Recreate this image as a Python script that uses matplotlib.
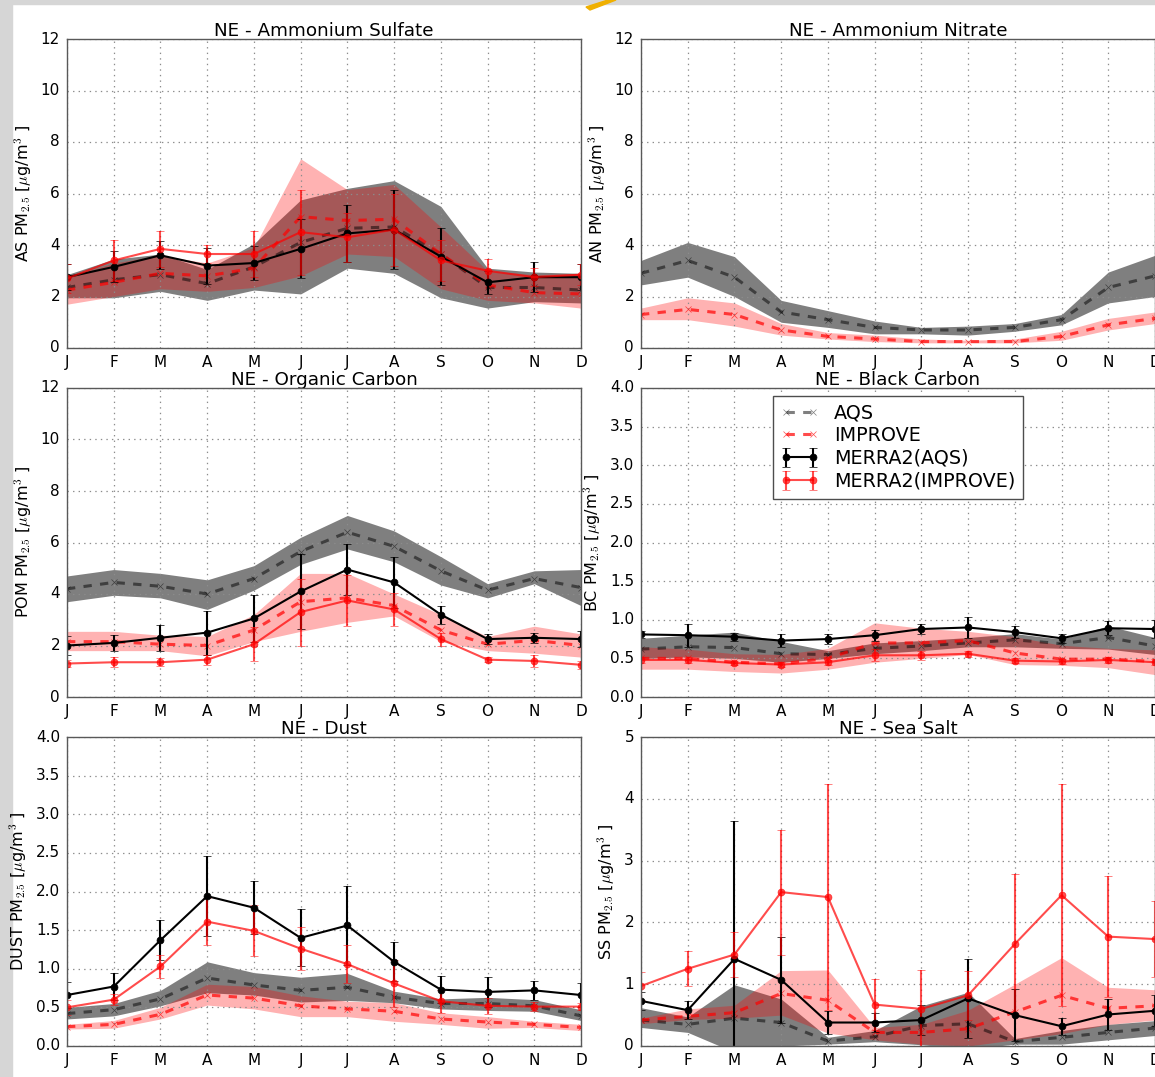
import matplotlib
matplotlib.use('Agg')
import matplotlib.pyplot as plt
from matplotlib.patches import Rectangle, Polygon
import numpy as np

plt.style.use('classic')
plt.rcParams['font.family'] = ['DejaVu Sans']
plt.rcParams['mathtext.fontset'] = 'cm'
plt.rcParams['figure.facecolor'] = 'white'
plt.rcParams['savefig.facecolor'] = 'white'

months = ['J', 'F', 'M', 'A', 'M', 'J', 'J', 'A', 'S', 'O', 'N', 'D']

# ---- Ammonium Sulfate
as_aqs = [2.35, 2.65, 2.85, 2.5, 3.15, 4.1, 4.65, 4.7, 3.65, 2.35, 2.35, 2.25]
as_aqs_lo = [1.95, 1.95, 2.2, 1.85, 2.25, 2.1, 3.1, 2.9, 1.95, 1.55, 1.8, 1.75]
as_aqs_hi = [2.85, 3.45, 3.65, 3.05, 4.05, 5.75, 6.2, 6.5, 5.5, 3.1, 2.95, 2.9]
as_imp = [2.25, 2.55, 2.9, 2.8, 3.1, 5.1, 4.95, 5.0, 3.65, 2.45, 2.15, 2.1]
as_imp_lo = [1.7, 2.0, 2.3, 2.2, 2.35, 2.8, 3.65, 3.55, 2.3, 1.85, 1.75, 1.55]
as_imp_hi = [2.75, 3.3, 3.6, 3.3, 3.9, 7.35, 6.15, 6.35, 4.7, 3.0, 2.85, 2.9]
as_m2aqs = [2.75, 3.15, 3.6, 3.2, 3.3, 3.85, 4.45, 4.6, 3.55, 2.55, 2.75, 2.75]
as_m2aqs_err = [0.5, 0.6, 0.55, 0.7, 0.65, 1.15, 1.1, 1.55, 1.1, 0.45, 0.58, 0.5]
as_m2imp = [2.7, 3.4, 3.85, 3.65, 3.65, 4.5, 4.3, 4.6, 3.4, 3.0, 2.75, 2.85]
as_m2imp_err = [0.55, 0.8, 0.7, 0.35, 0.9, 1.65, 0.95, 1.4, 0.8, 0.45, 0.35, 0.4]

# ---- Ammonium Nitrate
an_aqs = [2.9, 3.4, 2.75, 1.4, 1.1, 0.8, 0.7, 0.7, 0.8, 1.1, 2.35, 2.8]
an_aqs_lo = [2.45, 2.75, 2.0, 1.0, 0.8, 0.55, 0.55, 0.5, 0.65, 0.9, 1.75, 2.0]
an_aqs_hi = [3.4, 4.1, 3.55, 1.85, 1.45, 1.05, 0.8, 0.85, 0.95, 1.3, 2.95, 3.6]
an_imp = [1.3, 1.5, 1.3, 0.7, 0.45, 0.35, 0.25, 0.25, 0.25, 0.45, 0.9, 1.15]
an_imp_lo = [1.1, 1.1, 0.85, 0.5, 0.35, 0.25, 0.2, 0.2, 0.2, 0.3, 0.7, 0.95]
an_imp_hi = [1.55, 1.95, 1.75, 0.95, 0.6, 0.5, 0.35, 0.3, 0.35, 0.65, 1.15, 1.4]

# ---- Organic Carbon
oc_aqs = [4.2, 4.45, 4.3, 4.0, 4.6, 5.65, 6.4, 5.85, 4.9, 4.15, 4.6, 4.25]
oc_aqs_lo = [3.7, 3.95, 3.85, 3.4, 4.15, 5.15, 5.75, 5.25, 4.35, 3.85, 4.4, 3.55]
oc_aqs_hi = [4.7, 4.95, 4.8, 4.55, 5.1, 6.2, 7.05, 6.45, 5.45, 4.4, 4.9, 4.95]
oc_imp = [2.15, 2.15, 2.05, 2.0, 2.6, 3.7, 3.85, 3.55, 2.6, 2.05, 2.2, 2.0]
oc_imp_lo = [1.8, 1.8, 1.8, 1.6, 2.15, 2.55, 2.9, 3.15, 2.15, 1.8, 1.7, 1.55]
oc_imp_hi = [2.55, 2.55, 2.4, 2.35, 3.2, 4.8, 4.8, 4.0, 3.2, 2.35, 2.75, 2.45]
oc_m2aqs = [2.0, 2.1, 2.3, 2.5, 3.05, 4.1, 4.95, 4.45, 3.2, 2.25, 2.3, 2.25]
oc_m2aqs_err = [0.35, 0.3, 0.5, 0.85, 0.9, 1.45, 1.0, 1.0, 0.35, 0.2, 0.2, 0.3]
oc_m2imp = [1.3, 1.35, 1.35, 1.45, 2.05, 3.3, 3.75, 3.4, 2.25, 1.45, 1.4, 1.25]
oc_m2imp_err = [0.15, 0.2, 0.15, 0.2, 0.65, 1.3, 1.0, 0.65, 0.25, 0.1, 0.25, 0.15]

# ---- Black Carbon
bc_aqs = [0.62, 0.65, 0.64, 0.56, 0.55, 0.63, 0.66, 0.7, 0.74, 0.69, 0.77, 0.66]
bc_aqs_lo = [0.5, 0.52, 0.5, 0.45, 0.5, 0.56, 0.6, 0.65, 0.65, 0.63, 0.62, 0.55]
bc_aqs_hi = [0.76, 0.8, 0.84, 0.72, 0.6, 0.7, 0.73, 0.77, 0.82, 0.75, 0.92, 0.77]
bc_imp = [0.5, 0.5, 0.45, 0.43, 0.5, 0.7, 0.7, 0.73, 0.57, 0.49, 0.49, 0.46]
bc_imp_lo = [0.36, 0.36, 0.33, 0.31, 0.36, 0.45, 0.5, 0.55, 0.42, 0.41, 0.38, 0.29]
bc_imp_hi = [0.65, 0.62, 0.56, 0.55, 0.63, 0.96, 0.89, 0.85, 0.78, 0.67, 0.63, 0.61]
bc_m2aqs = [0.81, 0.8, 0.78, 0.73, 0.75, 0.8, 0.88, 0.9, 0.84, 0.76, 0.89, 0.88]
bc_m2aqs_err = [0.05, 0.15, 0.05, 0.08, 0.07, 0.07, 0.06, 0.14, 0.08, 0.06, 0.09, 0.12]
bc_m2imp = [0.48, 0.48, 0.44, 0.42, 0.45, 0.54, 0.54, 0.56, 0.47, 0.46, 0.48, 0.45]
bc_m2imp_err = [0.04, 0.04, 0.03, 0.03, 0.03, 0.08, 0.06, 0.04, 0.03, 0.03, 0.04, 0.04]

# ---- Dust
du_aqs = [0.42, 0.47, 0.61, 0.88, 0.79, 0.72, 0.76, 0.63, 0.55, 0.55, 0.52, 0.39]
du_aqs_lo = [0.35, 0.39, 0.52, 0.69, 0.66, 0.57, 0.59, 0.56, 0.48, 0.46, 0.45, 0.33]
du_aqs_hi = [0.5, 0.55, 0.72, 1.09, 0.95, 0.89, 0.94, 0.71, 0.61, 0.63, 0.6, 0.47]
du_imp = [0.25, 0.28, 0.41, 0.66, 0.62, 0.52, 0.48, 0.45, 0.35, 0.31, 0.28, 0.24]
du_imp_lo = [0.22, 0.23, 0.35, 0.53, 0.48, 0.38, 0.38, 0.32, 0.28, 0.23, 0.24, 0.2]
du_imp_hi = [0.28, 0.33, 0.5, 0.8, 0.77, 0.65, 0.58, 0.56, 0.43, 0.38, 0.32, 0.28]
du_m2aqs = [0.66, 0.77, 1.37, 1.94, 1.79, 1.4, 1.56, 1.09, 0.73, 0.7, 0.72, 0.66]
du_m2aqs_err = [0.17, 0.17, 0.26, 0.52, 0.34, 0.37, 0.51, 0.25, 0.17, 0.19, 0.12, 0.16]
du_m2imp = [0.5, 0.6, 1.03, 1.61, 1.49, 1.26, 1.06, 0.81, 0.58, 0.52, 0.51, 0.51]
du_m2imp_err = [0.1, 0.07, 0.15, 0.3, 0.33, 0.28, 0.25, 0.3, 0.15, 0.1, 0.06, 0.05]

# ---- Sea Salt
ss_aqs = [0.42, 0.35, 0.45, 0.38, 0.08, 0.15, 0.33, 0.36, 0.07, 0.14, 0.22, 0.29]
ss_aqs_lo = [0.3, 0.22, -0.1, 0.0, 0.03, 0.07, 0.02, -0.05, 0.03, 0.03, 0.1, 0.17]
ss_aqs_hi = [0.62, 0.47, 0.99, 0.76, 0.14, 0.25, 0.65, 0.87, 0.12, 0.25, 0.35, 0.41]
ss_imp = [0.42, 0.48, 0.54, 0.85, 0.74, 0.22, 0.22, 0.28, 0.55, 0.82, 0.61, 0.65]
ss_imp_lo = [0.36, 0.43, 0.45, 0.5, 0.21, 0.1, 0.03, 0.0, 0.1, 0.2, 0.35, 0.42]
ss_imp_hi = [0.45, 0.6, 0.66, 1.22, 1.23, 0.3, 0.35, 0.58, 1.0, 1.43, 0.95, 0.91]
ss_m2aqs = [0.73, 0.58, 1.41, 1.07, 0.38, 0.38, 0.42, 0.77, 0.5, 0.32, 0.51, 0.57]
ss_m2aqs_err = [0.15, 0.15, 2.23, 0.7, 0.18, 0.15, 0.25, 0.64, 0.42, 0.14, 0.25, 0.25]
ss_m2imp = [0.97, 1.25, 1.48, 2.49, 2.41, 0.67, 0.6, 0.82, 1.65, 2.44, 1.77, 1.73]
ss_m2imp_err = [0.22, 0.28, 0.36, 1.01, 1.83, 0.41, 0.63, 0.4, 1.14, 1.8, 0.98, 0.62]

W, H = 1155, 1077


def add_ax(fig, x0, y0, w=514, h=309):
    return fig.add_axes([x0 / W, 1 - (y0 + h) / H, w / W, h / H])


def draw_panel(ax, title, ylab, ymax, yticks, yfmt,
               aqs, aqs_lo, aqs_hi, imp, imp_lo, imp_hi,
               m2aqs=None, m2aqs_err=None, m2imp=None, m2imp_err=None):
    x = np.arange(12)
    ax.fill_between(x, aqs_lo, aqs_hi, color='k', alpha=0.5, lw=0)
    ax.fill_between(x, imp_lo, imp_hi, color='r', alpha=0.3, lw=0)
    ax.plot(x, aqs, '--', color='k', alpha=0.5, lw=2.2, marker='x', ms=4,
            zorder=3, label='AQS')
    ax.plot(x, imp, '--', color='r', alpha=0.7, lw=2.2, marker='x', ms=4,
            zorder=3, label='IMPROVE')
    if m2aqs is not None:
        ax.errorbar(x, m2aqs, yerr=m2aqs_err, fmt='o-', color='k', ms=5, lw=1.5,
                    elinewidth=1.5, capsize=3, mec='k', zorder=4,
                    label='MERRA2(AQS)')
        ax.errorbar(x, m2imp, yerr=m2imp_err, fmt='o-', color='r', ms=5, lw=1.5,
                    elinewidth=1.5, capsize=3, mec='r', alpha=0.7, zorder=4,
                    label='MERRA2(IMPROVE)')
    ax.set_xlim(0, 11)
    ax.set_ylim(0, ymax)
    ax.set_xticks(x)
    ax.set_xticklabels(months)
    ax.set_yticks(yticks)
    ax.set_yticklabels([yfmt.format(v) for v in yticks])
    ax.tick_params(labelsize=11, length=0, pad=5)
    ax.grid(True, color='0.55', linestyle=':', linewidth=0.9)
    for sp in ax.spines.values():
        sp.set_color('0.35')
        sp.set_zorder(5)
    ax.set_title(title, fontsize=13.2, pad=2)
    ax.set_ylabel(ylab + r' PM$_{2.5}$ [$\mu$g/m$^3$ ]', fontsize=11.5)


fig = plt.figure(figsize=(W / 100, H / 100), dpi=100)

# screenshot frame
fig.patches.append(Rectangle((0, 0), 12 / W, 1, transform=fig.transFigure,
                             color='#d6d6d6', zorder=-5))
fig.patches.append(Rectangle((0, 1 - 4 / H), 1, 4 / H, transform=fig.transFigure,
                             color='#d6d6d6', zorder=-5))
fig.patches.append(Polygon([(586 / W, 1 - 7 / H), (608 / W, 1), (616 / W, 1),
                            (590 / W, 1 - 10 / H)], closed=True,
                           transform=fig.transFigure, color='#f0b000', zorder=5))

ax1 = add_ax(fig, 67, 39)
draw_panel(ax1, 'NE - Ammonium Sulfate', 'AS', 12, range(0, 13, 2), '{:d}',
           as_aqs, as_aqs_lo, as_aqs_hi, as_imp, as_imp_lo, as_imp_hi,
           as_m2aqs, as_m2aqs_err, as_m2imp, as_m2imp_err)

ax2 = add_ax(fig, 641, 39)
draw_panel(ax2, 'NE - Ammonium Nitrate', 'AN', 12, range(0, 13, 2), '{:d}',
           an_aqs, an_aqs_lo, an_aqs_hi, an_imp, an_imp_lo, an_imp_hi)

ax3 = add_ax(fig, 67, 388)
draw_panel(ax3, 'NE - Organic Carbon', 'POM', 12, range(0, 13, 2), '{:d}',
           oc_aqs, oc_aqs_lo, oc_aqs_hi, oc_imp, oc_imp_lo, oc_imp_hi,
           oc_m2aqs, oc_m2aqs_err, oc_m2imp, oc_m2imp_err)

ax4 = add_ax(fig, 641, 388)
draw_panel(ax4, 'NE - Black Carbon', 'BC', 4, np.arange(0, 4.01, 0.5), '{:.1f}',
           bc_aqs, bc_aqs_lo, bc_aqs_hi, bc_imp, bc_imp_lo, bc_imp_hi,
           bc_m2aqs, bc_m2aqs_err, bc_m2imp, bc_m2imp_err)
leg = ax4.legend(loc='upper center', fontsize=13.8, numpoints=2,
                 labelspacing=0.2, borderpad=0.4, borderaxespad=0.4)
leg.get_frame().set_edgecolor('0.3')
leg.set_zorder(6)

ax5 = add_ax(fig, 67, 737)
draw_panel(ax5, 'NE - Dust', 'DUST', 4, np.arange(0, 4.01, 0.5), '{:.1f}',
           du_aqs, du_aqs_lo, du_aqs_hi, du_imp, du_imp_lo, du_imp_hi,
           du_m2aqs, du_m2aqs_err, du_m2imp, du_m2imp_err)

ax6 = add_ax(fig, 641, 737)
draw_panel(ax6, 'NE - Sea Salt', 'SS', 5, range(0, 6), '{:d}',
           ss_aqs, ss_aqs_lo, ss_aqs_hi, ss_imp, ss_imp_lo, ss_imp_hi,
           ss_m2aqs, ss_m2aqs_err, ss_m2imp, ss_m2imp_err)

fig.savefig('out.png', dpi=100)
